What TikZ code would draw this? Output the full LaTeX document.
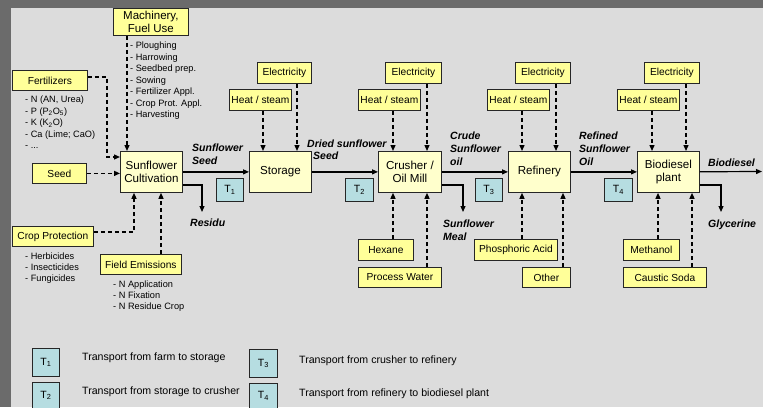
\documentclass[tikz,border=0pt]{standalone}
\usepackage{fontspec}
\setmainfont{Liberation Sans}
\usetikzlibrary{arrows.meta}

\definecolor{framegray}{HTML}{6B6B6B}
\definecolor{panelgray}{HTML}{DCDCDC}
\definecolor{inputyellow}{HTML}{FFFF99}
\definecolor{procyellow}{HTML}{FFFFCC}
\definecolor{transblue}{HTML}{B6DDE1}

\newcommand{\fsz}[2]{\fontsize{#1}{#2}\selectfont}

\tikzset{
  boxbase/.style={draw=black!85, line width=0.8pt, inner sep=0pt, align=center, anchor=north west},
  inputbox/.style={boxbase, fill=inputyellow, font=\fsz{10.2}{12}},
  procbox/.style={boxbase, fill=procyellow, font=\fsz{11.6}{13.5}},
  transbox/.style={boxbase, fill=transblue, font=\fsz{10.5}{12}},
  flow/.style={line width=1.2pt, -{Triangle[length=6pt,width=5pt]}},
  feed/.style={line width=1.3pt, dash pattern=on 4pt off 3pt, -{Triangle[length=6pt,width=5pt]}},
  flowlabel/.style={font=\fsz{10.5}{13}\bfseries\itshape, inner sep=0pt, anchor=north west, align=left},
  itemlist/.style={font=\fsz{9.2}{11.5}, inner sep=0pt, anchor=north west, align=left},
  legendtext/.style={font=\fsz{10.6}{12}, inner sep=0pt, anchor=west},
}

\begin{document}
\begin{tikzpicture}[x=1pt,y=-1pt]
\useasboundingbox (0,0) rectangle (763,407);
\fill[framegray] (0,0) rectangle (763,407);
\fill[panelgray] (11,8) rectangle (763,407);

% ---- agricultural inputs ----
\node[inputbox, minimum width=75pt, minimum height=27pt, font=\fsz{11.5}{13}] (mach) at (113,8) {Machinery,\\Fuel Use};
\node[inputbox, minimum width=75pt, minimum height=20pt] (fert) at (12,70) {Fertilizers};
\node[inputbox, minimum width=54pt, minimum height=20pt] (seed) at (32,163) {Seed};
\node[inputbox, minimum width=81pt, minimum height=20pt] (crop) at (12,226) {Crop Protection};
\node[inputbox, minimum width=81pt, minimum height=20pt] (field) at (100,254) {Field Emissions};

\node[itemlist] (machlist) at (130,42) {- Ploughing\\- Harrowing\\- Seedbed prep.\\- Sowing\\- Fertilizer Appl.\\- Crop Prot. Appl.\\- Harvesting};
\node[itemlist] (fertlist) at (25,96) {- N (AN, Urea)\\- P (P\textsubscript{2}O\textsubscript{5})\\- K (K\textsubscript{2}O)\\- Ca (Lime; CaO)\\- ...};
\node[itemlist, font=\fsz{9.2}{11}] (croplist) at (25,253) {- Herbicides\\- Insecticides\\- Fungicides};
\node[itemlist, font=\fsz{9.2}{11}] (fieldlist) at (113,281) {- N Application\\- N Fixation\\- N Residue Crop};

% ---- process chain ----
\node[procbox, minimum width=62pt, minimum height=41pt] (cult) at (120,151) {Sunflower\\Cultivation};
\node[procbox, minimum width=62pt, minimum height=41pt] (stor) at (249,151) {Storage};
\node[procbox, minimum width=63pt, minimum height=41pt] (crush) at (378,151) {Crusher /\\Oil Mill};
\node[procbox, minimum width=62pt, minimum height=41pt] (ref) at (508,151) {Refinery};
\node[procbox, minimum width=62pt, minimum height=41pt] (bio) at (637,151) {Biodiesel\\plant};

% ---- energy inputs ----
\node[inputbox, minimum width=62pt, minimum height=21pt] (heatA) at (229,89) {Heat / steam};
\node[inputbox, minimum width=54pt, minimum height=21pt] (elecA) at (257,62) {Electricity};
\node[inputbox, minimum width=62pt, minimum height=21pt] (heatB) at (358,89) {Heat / steam};
\node[inputbox, minimum width=56pt, minimum height=21pt] (elecB) at (385,62) {Electricity};
\node[inputbox, minimum width=62pt, minimum height=21pt] (heatC) at (487,89) {Heat / steam};
\node[inputbox, minimum width=55pt, minimum height=21pt] (elecC) at (515,62) {Electricity};
\node[inputbox, minimum width=62pt, minimum height=21pt] (heatD) at (617,89) {Heat / steam};
\node[inputbox, minimum width=55pt, minimum height=21pt] (elecD) at (644,62) {Electricity};

% ---- material inputs ----
\node[inputbox, minimum width=55pt, minimum height=21pt] (hexane) at (358,239) {Hexane};
\node[inputbox, minimum width=83pt, minimum height=20pt] (water) at (358,267) {Process Water};
\node[inputbox, minimum width=83pt, minimum height=21pt] (acid) at (474,239) {Phosphoric Acid};
\node[inputbox, minimum width=48pt, minimum height=20pt] (other) at (522,267) {Other};
\node[inputbox, minimum width=56pt, minimum height=21pt] (methanol) at (623,239) {Methanol};
\node[inputbox, minimum width=83pt, minimum height=20pt] (soda) at (623,267) {Caustic Soda};

% ---- transport steps ----
\node[transbox, minimum width=27pt, minimum height=23pt] (tA) at (216,178) {T\textsubscript{1}};
\node[transbox, minimum width=28pt, minimum height=23pt] (tB) at (345,178) {T\textsubscript{2}};
\node[transbox, minimum width=27pt, minimum height=23pt] (tC) at (475,178) {T\textsubscript{3}};
\node[transbox, minimum width=28pt, minimum height=23pt] (tD) at (604,178) {T\textsubscript{4}};

% ---- flow labels ----
\node[flowlabel] (lblseed) at (192,143.5) {Sunflower\\Seed};
\node[flowlabel] (lblresidu) at (190,218.5) {Residu};
\node[flowlabel, font=\fsz{10.5}{12}\bfseries\itshape] (lbldried) at (307,139.5) {Dried sunflower\\\hspace*{6pt}Seed};
\node[flowlabel, font=\fsz{10.5}{12.8}\bfseries\itshape] (lblcrude) at (450,132) {Crude\\Sunflower\\oil};
\node[flowlabel, font=\fsz{10.5}{12.8}\bfseries\itshape] (lblrefined) at (579,132) {Refined\\Sunflower\\Oil};
\node[flowlabel] (lblbiodiesel) at (708,158.5) {Biodiesel};
\node[flowlabel] (lblmeal) at (443,219.5) {Sunflower\\Meal};
\node[flowlabel] (lblglyc) at (708,219.5) {Glycerine};

% ---- main product flow ----
\coordinate (outend) at (762,171.5);
\draw[flow] (cult) -- (stor);
\draw[flow] (stor) -- (crush);
\draw[flow] (crush) -- (ref);
\draw[flow] (ref) -- (bio);
\draw[flow] (bio) -- (outend);

% ---- by-products ----
\coordinate (residuend) at (202,212);
\coordinate (mealend) at (463,212);
\coordinate (glycend) at (721,212);
\draw[flow] (cult.east |- 0,185) -| (residuend);
\draw[flow] (crush.east |- 0,185) -| (mealend);
\draw[flow] (bio.east |- 0,185) -| (glycend);

% ---- cultivation inputs ----
\draw[feed] (mach.south -| 127,0) -- (cult.north -| 127,0);
\draw[feed] (fert.east |- 0,77) -- (107,77) |- (cult.west |- 0,157);
\draw[feed] (seed.east) -- (cult.west |- seed.east);
\draw[feed] (crop.east |- 0,232) -| (cult.south -| 134,0);
\draw[feed] (field.north -| 161,0) -- (cult.south -| 161,0);

% ---- energy feeds ----
\draw[feed] (heatA.south -| 263,0) -- (stor.north -| 263,0);
\draw[feed] (elecA.south -| 297,0) -- (stor.north -| 297,0);
\draw[feed] (heatB.south -| 393,0) -- (crush.north -| 393,0);
\draw[feed] (elecB.south -| 427,0) -- (crush.north -| 427,0);
\draw[feed] (heatC.south -| 522,0) -- (ref.north -| 522,0);
\draw[feed] (elecC.south -| 556,0) -- (ref.north -| 556,0);
\draw[feed] (heatD.south -| 652,0) -- (bio.north -| 652,0);
\draw[feed] (elecD.south -| 686,0) -- (bio.north -| 686,0);

% ---- material feeds ----
\draw[feed] (hexane.north -| 393,0) -- (crush.south -| 393,0);
\draw[feed] (water.north -| 427,0) -- (crush.south -| 427,0);
\draw[feed] (acid.north -| 522,0) -- (ref.south -| 522,0);
\draw[feed] (other.north -| 563,0) -- (ref.south -| 563,0);
\draw[feed] (methanol.north -| 658,0) -- (bio.south -| 658,0);
\draw[feed] (soda.north -| 692,0) -- (bio.south -| 692,0);

% ---- legend ----
\node[transbox, minimum width=27pt, minimum height=28pt] (legA) at (32,348) {T\textsubscript{1}};
\node[transbox, minimum width=27pt, minimum height=26pt] (legB) at (32,382) {T\textsubscript{2}};
\node[transbox, minimum width=28pt, minimum height=28pt] (legC) at (249,349) {T\textsubscript{3}};
\node[transbox, minimum width=28pt, minimum height=25pt] (legD) at (249,383) {T\textsubscript{4}};
\node[legendtext] (legAtext) at (82,358) {Transport from farm to storage};
\node[legendtext] (legBtext) at (82,392) {Transport from storage to crusher};
\node[legendtext] (legCtext) at (299,361) {Transport from crusher to refinery};
\node[legendtext] (legDtext) at (299,394) {Transport from refinery to biodiesel plant};
\end{tikzpicture}
\end{document}
